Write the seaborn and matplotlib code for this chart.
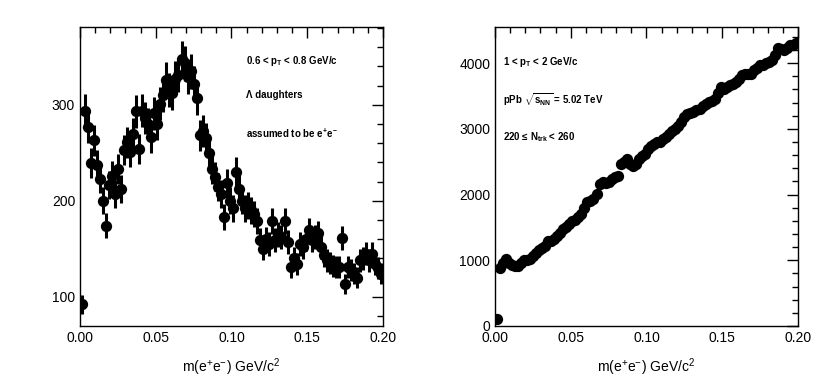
import numpy as np
import pandas as pd
import matplotlib
matplotlib.use("Agg")
import matplotlib.pyplot as plt
from matplotlib.ticker import MultipleLocator
import seaborn as sns

# bin centres, 100 bins in 0-0.2 GeV/c^2
mass = np.arange(100) * 0.002 + 0.001

# left: Lambda daughters, 0.6 < pT < 0.8
lam_counts = [
    92, 294, 277, 239, 263, 237, 223, 200, 174, 216,
    226, 207, 233, 212, 253, 261, 251, 270, 293, 254,
    294, 286, 280, 266, 291, 280, 301, 310, 326, 315,
    312, 327, 331, 348, 343, 329, 335, 322, 307, 268,
    273, 265, 250, 233, 225, 214, 207, 183, 218, 200,
    192, 230, 212, 200, 192, 195, 190, 186, 179, 159,
    150, 160, 155, 179, 159, 165, 162, 179, 157, 131,
    140, 134, 155, 152, 160, 169, 159, 162, 166, 152,
    143, 138, 135, 132, 131, 131, 161, 113, 131, 128,
    124, 120, 138, 140, 145, 138, 145, 134, 130, 124,
]

# right: pPb, 1 < pT < 2, 220 <= Ntrk < 260
ppb_counts = [
    100, 880, 960, 1020, 960, 935, 910, 910, 960, 1000,
    1010, 1020, 1060, 1110, 1160, 1190, 1215, 1290, 1290, 1330,
    1370, 1420, 1470, 1500, 1545, 1600, 1620, 1660, 1700, 1800,
    1880, 1900, 1930, 2005, 2160, 2185, 2180, 2185, 2235, 2260,
    2285, 2465, 2490, 2540, 2460, 2440, 2465, 2540, 2580, 2620,
    2690, 2745, 2770, 2795, 2795, 2845, 2880, 2925, 2975, 3000,
    3050, 3100, 3180, 3230, 3240, 3255, 3280, 3305, 3355, 3380,
    3410, 3430, 3460, 3550, 3640, 3610, 3640, 3670, 3690, 3715,
    3765, 3815, 3830, 3840, 3840, 3890, 3930, 3970, 3970, 3995,
    4020, 4045, 4120, 4225, 4210, 4200, 4225, 4275, 4280, 4300,
]

left_labels = ["0.6 < p$_{\\mathbf{T}}$ < 0.8 GeV/c", "\u039b daughters",
               "assumed to be e$^{\\mathbf{+}}$e$^{\\mathbf{-}}$"]
right_labels = ["1 < p$_{\\mathbf{T}}$ < 2 GeV/c",
                "pPb $\\mathbf{\\sqrt{s_{NN}}}$ = 5.02 TeV",
                "220 \u2264 N$_{\\mathbf{trk}}$ < 260"]
xlabel = "m(e$^{+}$e$^{-}$) GeV/c$^{2}$"

sns.set_style("white")
plt.rcParams["font.family"] = ["Liberation Sans", "DejaVu Sans"]
plt.rcParams["mathtext.fontset"] = "custom"
plt.rcParams["mathtext.rm"] = "Liberation Sans"
plt.rcParams["mathtext.bf"] = "Liberation Sans:bold"
plt.rcParams["mathtext.default"] = "regular"
plt.rcParams["text.color"] = "black"
plt.rcParams["axes.labelcolor"] = "black"
plt.rcParams["xtick.color"] = "black"
plt.rcParams["ytick.color"] = "black"

fig = plt.figure(figsize=(8.3, 3.88), dpi=100)
ax1 = fig.add_axes([0.0964, 0.1598, 0.365, 0.7706])
ax2 = fig.add_axes([0.5964, 0.1598, 0.365, 0.7706])

df1 = pd.DataFrame({"mass": mass, "counts": lam_counts})
df2 = pd.DataFrame({"mass": mass, "counts": ppb_counts})

for ax, df in [(ax1, df1), (ax2, df2)]:
    err = np.sqrt(df["counts"])
    ax.vlines(df["mass"], df["counts"] - err, df["counts"] + err,
              color="black", linewidth=2.2, zorder=2)
    sns.scatterplot(data=df, x="mass", y="counts", ax=ax, color="black",
                    s=66, edgecolor="black", linewidth=0, zorder=3)
    ax.set_xlim(0, 0.2)
    ax.xaxis.set_major_locator(MultipleLocator(0.05))
    ax.xaxis.set_minor_locator(MultipleLocator(0.01))
    ax.xaxis.set_major_formatter(plt.FormatStrFormatter("%.2f"))
    ax.tick_params(which="both", direction="in", top=True, right=True,
                   labelsize=10, width=1, color="black", labelcolor="black")
    ax.tick_params(which="major", length=8)
    ax.tick_params(which="minor", length=4)
    ax.set_xlabel(xlabel, fontsize=10, labelpad=8, color="black")
    ax.set_ylabel("")
    for s in ax.spines.values():
        s.set_color("black")
        s.set_linewidth(1)

ax1.set_ylim(69.5, 381)
ax1.yaxis.set_major_locator(MultipleLocator(100))
ax1.yaxis.set_minor_locator(MultipleLocator(20))

ax2.set_ylim(0, 4550)
ax2.yaxis.set_major_locator(MultipleLocator(1000))
ax2.yaxis.set_minor_locator(MultipleLocator(200))

for txt, yy in zip(left_labels, [0.886, 0.773, 0.645]):
    ax1.text(0.548, yy, txt, transform=ax1.transAxes, fontsize=7,
             fontweight="bold", va="center", ha="left", color="black")
for txt, yy in zip(right_labels, [0.884, 0.756, 0.633]):
    ax2.text(0.026, yy, txt, transform=ax2.transAxes, fontsize=7,
             fontweight="bold", va="center", ha="left", color="black")

fig.savefig("out.png", dpi=100)
